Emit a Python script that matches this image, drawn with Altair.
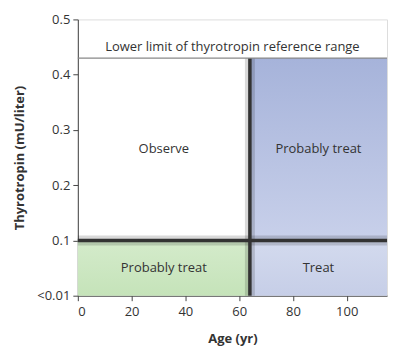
import altair as alt
import pandas as pd

# Region boundaries (Age in yr, Thyrotropin in mU/liter)
age_cut = 64
age_max = 115
tsh_cut = 0.1
tsh_ref = 0.43

region_names = ["Observe", "Probably treat", "Probably treat", "Treat"]
region_x = [0, age_cut, 0, age_cut]
region_x2 = [age_cut, age_max, age_cut, age_max]
region_y = [tsh_cut, tsh_cut, 0, 0]
region_y2 = [tsh_ref, tsh_ref, tsh_cut, tsh_cut]

ref_label = "Lower limit of thyrotropin reference range"
x_ticks = [0, 20, 40, 60, 80, 100]
y_ticks = [0, 0.1, 0.2, 0.3, 0.4, 0.5]

FONT = "Open Sans"
TXT = "#333333"

df = pd.DataFrame({
    "name": region_names, "x": region_x, "x2": region_x2,
    "y": region_y, "y2": region_y2,
})
df["cx"] = (df["x"] + df["x2"]) / 2
df["cy"] = (df["y"] + df["y2"]) / 2

xs = alt.Scale(domain=[0, age_max], nice=False, zero=False)
ys = alt.Scale(domain=[0, 0.5], nice=False)

base = alt.Chart(df)


def grad(top, bottom):
    return alt.Gradient(
        gradient="linear", x1=0, x2=0, y1=0, y2=1,
        stops=[alt.GradientStop(color=top, offset=0),
               alt.GradientStop(color=bottom, offset=1)],
    )


def rect(i, fill):
    return base.transform_filter(alt.datum.x == region_x[i]).transform_filter(
        alt.datum.y == region_y[i]
    ).mark_rect(fill=fill, strokeWidth=0).encode(
        x=alt.X("x:Q", scale=xs), x2="x2", y=alt.Y("y:Q", scale=ys), y2="y2"
    )


green = rect(2, grad("#d4ebcb", "#c5e3b9"))
blue_top = rect(1, grad("#a6b3da", "#c8d0ea"))
blue_bot = rect(3, grad("#d3daee", "#c6cee7"))

axes = base.mark_point(opacity=0).encode(
    x=alt.X("x:Q", scale=xs, title="Age (yr)",
            axis=alt.Axis(values=x_ticks, grid=False, domainColor="#444",
                          tickColor="#444", tickSize=5, labelFont=FONT,
                          labelFontSize=13, labelColor=TXT, titleFont=FONT,
                          titleFontSize=13, titleColor=TXT, titleFontWeight="bold",
                          titlePadding=14, labelPadding=5)),
    y=alt.Y("y:Q", scale=ys, title="Thyrotropin (mU/liter)",
            axis=alt.Axis(values=y_ticks, grid=False, domainColor="#444",
                          tickColor="#444", tickSize=5, labelFont=FONT,
                          labelFontSize=13, labelColor=TXT, titleFont=FONT,
                          titleFontSize=13, titleColor=TXT, titleFontWeight="bold",
                          titlePadding=10, labelPadding=3,
                          labelExpr="datum.value == 0 ? '<0.01' : format(datum.value, '.1f')")),
)

lines = pd.DataFrame({"v": [0]})
lb = alt.Chart(lines)

# horizontal divider at tsh_cut
h_shadow = lb.mark_rule(color="#000", opacity=0.15, size=10).encode(
    x=alt.datum(0, scale=xs), x2=alt.datum(age_max), y=alt.datum(tsh_cut, scale=ys))
h_line = lb.mark_rule(color="#333", size=3.5).encode(
    x=alt.datum(0, scale=xs), x2=alt.datum(age_max), y=alt.datum(tsh_cut, scale=ys))
# vertical divider at age_cut
v_shadow = lb.mark_rule(color="#000", opacity=0.15, size=10).encode(
    x=alt.datum(age_cut, scale=xs), y=alt.datum(0, scale=ys), y2=alt.datum(tsh_ref))
v_line = lb.mark_rule(color="#333", size=3.5).encode(
    x=alt.datum(age_cut, scale=xs), y=alt.datum(0, scale=ys), y2=alt.datum(tsh_ref))
# reference range line
ref_line = lb.mark_rule(color="#888", size=1.2).encode(
    x=alt.datum(0, scale=xs), x2=alt.datum(age_max), y=alt.datum(tsh_ref, scale=ys))
ref_text = lb.mark_text(font=FONT, fontSize=13, color=TXT, baseline="bottom", dy=-4).encode(
    x=alt.datum(age_max / 2, scale=xs), y=alt.datum(tsh_ref, scale=ys),
    text=alt.value(ref_label))

labels = base.mark_text(font=FONT, fontSize=13, color=TXT).encode(
    x=alt.X("cx:Q", scale=xs), y=alt.Y("cy:Q", scale=ys), text="name:N")

chart = alt.layer(
    axes, green, blue_top, blue_bot, h_shadow, v_shadow, h_line, v_line,
    ref_line, ref_text, labels,
).properties(width=310, height=277, padding={"left": 5, "top": 5, "right": 0, "bottom": 2}
).configure_view(stroke=None).configure(background="white")

chart.save("out.html", embed_options={"renderer": "svg", "actions": False})
